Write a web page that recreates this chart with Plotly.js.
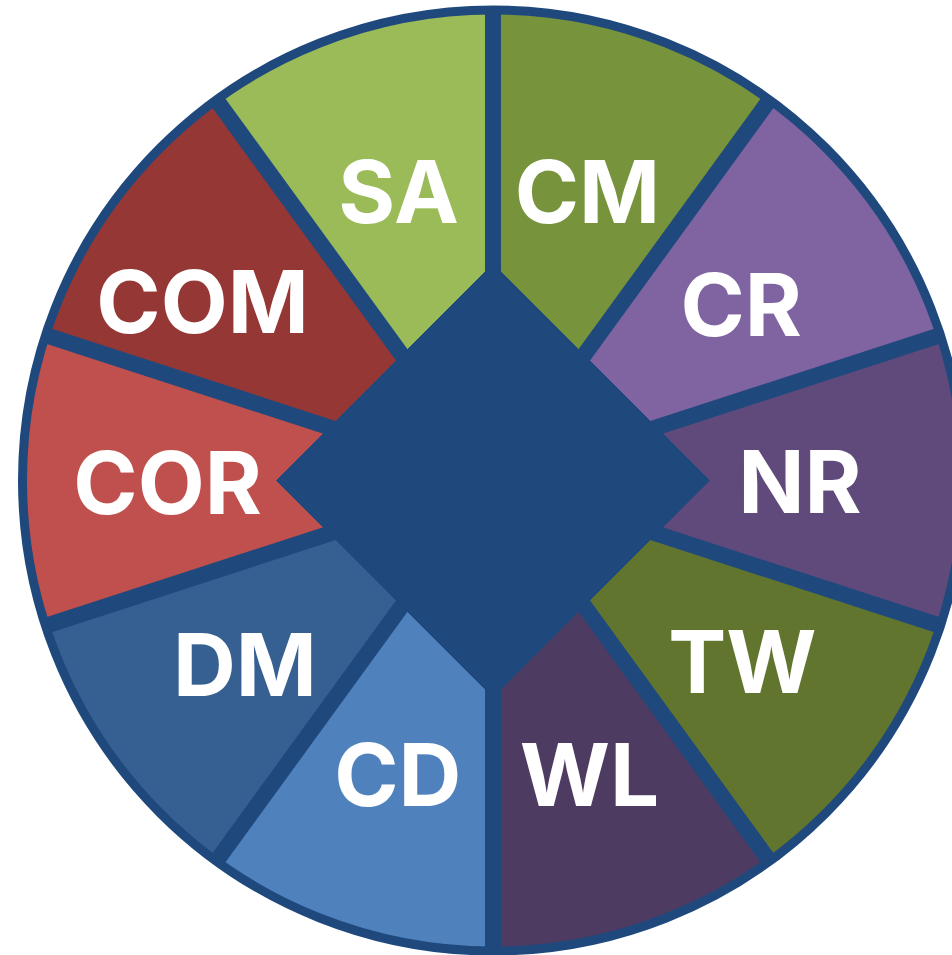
<!DOCTYPE html>
<html>
<head>
<meta charset="utf-8">
<script src="https://cdn.plot.ly/plotly-3.0.1.min.js"></script>
<style>
html, body { margin: 0; padding: 0; overflow: hidden; background: #ffffff; }
#chart { width: 964px; height: 955px; }
</style>
</head>
<body>
<div id="chart"></div>
<script>
// Categories clockwise from 12 o'clock
const categories = ["CM", "CR", "NR", "TW", "WL", "CD", "DM", "COR", "COM", "SA"];
// Equal share for each segment
const values = [1, 1, 1, 1, 1, 1, 1, 1, 1, 1];
const colors = ["#77933C", "#8064A2", "#604A7B", "#62752F", "#4E3B62",
                "#4F81BD", "#366092", "#C0504D", "#953735", "#9BBB59"];
// Label placement (angle in degrees clockwise from top, radius as fraction)
const labelTheta  = [18.7, 56.2, 92.0, 127.4, 162.4, 197.4, 232.0, 268.0, 300.3, 341.3];
const labelRadius = [0.626, 0.635, 0.653, 0.667, 0.678, 0.677, 0.669, 0.692, 0.715, 0.626];

const BORDER = "#1F497D";
const DIAMOND_R = 0.46;

const total = values.reduce((a, b) => a + b, 0);
const widths = values.map(v => v / total * 360);
const centers = [];
const bounds = [];
let acc = 0;
widths.forEach(w => { bounds.push(acc); centers.push(acc + w / 2); acc += w; });

const maxR = 1;

const slices = {
  type: "barpolar",
  r: values.map(() => maxR),
  theta: centers,
  width: widths,
  marker: { color: colors, line: { width: 0 } },
  hoverinfo: "skip"
};

const sepR = [], sepT = [];
bounds.forEach(b => { sepR.push(0, maxR, null); sepT.push(b, b, null); });
const separators = {
  type: "scatterpolar",
  mode: "lines",
  r: sepR,
  theta: sepT,
  line: { color: BORDER, width: 16 },
  hoverinfo: "skip"
};

const diamond = {
  type: "scatterpolar",
  mode: "lines",
  r: [DIAMOND_R, DIAMOND_R, DIAMOND_R, DIAMOND_R, DIAMOND_R],
  theta: [0, 90, 180, 270, 0],
  fill: "toself",
  fillcolor: BORDER,
  line: { color: BORDER, width: 1 },
  hoverinfo: "skip"
};

const labels = {
  type: "scatterpolar",
  mode: "text",
  r: labelRadius,
  theta: labelTheta,
  text: categories,
  textposition: "middle center",
  textfont: { family: "Inter, 'Open Sans', sans-serif", size: 87, color: "#ffffff", weight: 700 },
  hoverinfo: "skip"
};

const layout = {
  width: 964,
  height: 955,
  margin: { l: 22, r: 0, t: 10, b: 4, pad: 0 },
  paper_bgcolor: "#ffffff",
  showlegend: false,
  polar: {
    domain: { x: [0, 1], y: [0, 1] },
    bgcolor: "rgba(0,0,0,0)",
    bargap: 0,
    radialaxis: { visible: false, range: [0, maxR] },
    angularaxis: {
      rotation: 90,
      direction: "clockwise",
      showticklabels: false,
      ticks: "",
      showgrid: false,
      showline: true,
      linecolor: BORDER,
      linewidth: 9,
      layer: "above traces"
    }
  }
};

Plotly.newPlot("chart", [slices, separators, diamond, labels], layout, { displayModeBar: false, staticPlot: true });
</script>
</body>
</html>
